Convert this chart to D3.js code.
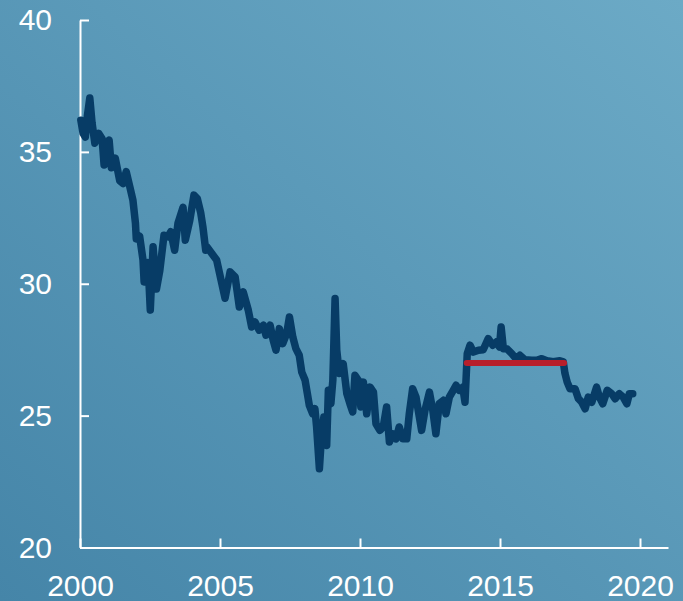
<!DOCTYPE html>
<html>
<head>
<meta charset="utf-8">
<script src="https://cdn.jsdelivr.net/npm/d3@7"></script>
<style>
  body { margin: 0; }
  .axis text { font-family: "Liberation Sans", Arial, sans-serif; font-size: 30px; fill: #fff; }
  .axis path, .axis line { stroke: #fff; stroke-width: 2; }
</style>
</head>
<body>
<script>
// decimal years and levels
var years = [2000.03, 2000.11, 2000.19, 2000.26, 2000.35, 2000.43, 2000.53, 2000.67, 2000.79, 2000.86,
  2000.98, 2001.04, 2001.12, 2001.26, 2001.42, 2001.54, 2001.65, 2001.78, 2001.89, 2001.98,
  2002.01, 2002.13, 2002.25, 2002.29, 2002.43, 2002.51, 2002.61, 2002.73, 2002.85, 2003.00,
  2003.14, 2003.24, 2003.38, 2003.50, 2003.68, 2003.76, 2003.92, 2004.07, 2004.19, 2004.31,
  2004.39, 2004.49, 2004.53, 2004.88, 2005.18, 2005.36, 2005.54, 2005.69, 2005.83, 2006.01,
  2006.13, 2006.25, 2006.40, 2006.55, 2006.64, 2006.79, 2006.90, 2007.00, 2007.12, 2007.24,
  2007.38, 2007.48, 2007.60, 2007.71, 2007.83, 2007.92, 2008.04, 2008.12, 2008.19, 2008.31,
  2008.39, 2008.45, 2008.55, 2008.63, 2008.71, 2008.81, 2008.87, 2008.96, 2009.03, 2009.11,
  2009.17, 2009.26, 2009.40, 2009.53, 2009.64, 2009.74, 2009.82, 2009.94, 2010.03, 2010.12,
  2010.24, 2010.36, 2010.48, 2010.57, 2010.71, 2010.83, 2010.95, 2011.05, 2011.17, 2011.29,
  2011.40, 2011.53, 2011.67, 2011.76, 2011.88, 2012.00, 2012.08, 2012.20, 2012.32, 2012.48,
  2012.60, 2012.71, 2012.83, 2012.98, 2013.07, 2013.19, 2013.33, 2013.43, 2013.55, 2013.67,
  2013.75, 2013.83, 2013.93, 2014.05, 2014.23, 2014.40, 2014.58, 2014.74, 2014.88, 2014.98,
  2015.04, 2015.12, 2015.24, 2015.42, 2015.57, 2015.71, 2015.89, 2016.13, 2016.31, 2016.49,
  2016.67, 2016.90, 2017.14, 2017.26, 2017.32, 2017.40, 2017.50, 2017.68, 2017.80, 2017.92,
  2018.04, 2018.15, 2018.28, 2018.45, 2018.55, 2018.67, 2018.83, 2018.99, 2019.11, 2019.26,
  2019.40, 2019.53, 2019.62, 2019.74];

var values = [36.2, 35.7, 35.56, 36.33, 37.04, 36.1, 35.33, 35.7, 35.5, 34.5,
  35.26, 35.45, 34.4, 34.76, 33.9, 33.8, 34.25, 33.67, 33.17, 32.3,
  31.7, 31.8, 30.9, 30.07, 30.8, 29.0, 31.4, 29.8, 30.5, 31.84,
  31.78, 31.97, 31.27, 32.3, 32.9, 31.65, 32.4, 33.36, 33.23, 32.7,
  32.15, 31.27, 31.4, 30.9, 29.45, 30.45, 30.26, 29.12, 29.69, 29.0,
  28.36, 28.55, 28.24, 28.43, 28.05, 28.43, 27.86, 27.48, 28.3, 27.73,
  28.11, 28.74, 27.98, 27.54, 27.29, 26.65, 26.34, 25.83, 25.39, 25.07,
  25.26, 24.57, 22.99, 24.31, 24.95, 23.87, 25.96, 25.45, 26.34, 29.44,
  27.48, 26.6, 26.97, 25.83, 25.45, 25.14, 26.53, 26.34, 25.33, 26.27,
  25.07, 26.08, 25.89, 24.69, 24.44, 24.57, 25.33, 24.0, 24.31, 24.12,
  24.57, 24.12, 24.12, 25.07, 26.02, 25.7, 25.2, 24.44, 25.2, 25.89,
  25.2, 24.31, 25.45, 25.58, 25.07, 25.7, 25.96, 26.15, 25.96, 26.08,
  25.51, 27.35, 27.67, 27.41, 27.48, 27.5, 27.92, 27.67, 27.8, 27.6,
  28.36, 27.54, 27.54, 27.35, 27.16, 27.29, 27.12, 27.1, 27.1, 27.16,
  27.08, 27.04, 27.08, 27.04, 26.6, 26.27, 26.02, 26.02, 25.64, 25.51,
  25.26, 25.7, 25.51, 26.08, 25.7, 25.45, 25.96, 25.83, 25.64, 25.83,
  25.7, 25.45, 25.83, 25.83];

// flat red reference segment
var refStart = 2013.81
  , refEnd = 2017.29
  , refValue = 27;

var xTicks = [2000, 2005, 2010, 2015, 2020];
var yTicks = [20, 25, 30, 35, 40];

var width = 683, height = 601;

var svg = d3.select('body')
  .append('svg')
  .attr('width', width)
  .attr('height', height);

var grad = svg.append('defs').append('linearGradient')
  .attr('id', 'bg')
  .attr('x1', '0%').attr('y1', '100%')
  .attr('x2', '100%').attr('y2', '0%');
grad.append('stop').attr('offset', '0%').attr('stop-color', '#4585a8');
grad.append('stop').attr('offset', '100%').attr('stop-color', '#6caac6');

svg.append('rect')
  .attr('width', width)
  .attr('height', height)
  .attr('fill', 'url(#bg)');

var x = d3.scaleLinear()
  .domain([2000, 2021])
  .range([80, 668]);

var y = d3.scaleLinear()
  .domain([20, 40])
  .range([547.5, 20]);

// axes, ticks pointing inward
svg.append('g')
  .attr('class', 'axis')
  .attr('transform', 'translate(0,' + y(20) + ')')
  .call(d3.axisBottom(x).tickValues(xTicks).tickFormat(d3.format('d'))
    .tickSizeInner(-9).tickSizeOuter(0).tickPadding(27));

svg.append('g')
  .attr('class', 'axis')
  .attr('transform', 'translate(' + x(2000) + ',0)')
  .call(d3.axisLeft(y).tickValues(yTicks)
    .tickSizeInner(-9).tickSizeOuter(0).tickPadding(28));

var data = years.map(function(d, i) { return {year: d, value: values[i]}; });

var line = d3.line()
  .x(function(d) { return x(d.year); })
  .y(function(d) { return y(d.value); });

svg.append('path')
  .datum(data)
  .attr('d', line)
  .attr('fill', 'none')
  .attr('stroke', '#073c66')
  .attr('stroke-width', 7.5)
  .attr('stroke-linejoin', 'round')
  .attr('stroke-linecap', 'round');

svg.append('line')
  .attr('x1', x(refStart))
  .attr('x2', x(refEnd))
  .attr('y1', y(refValue))
  .attr('y2', y(refValue))
  .attr('stroke', '#b81f2b')
  .attr('stroke-width', 6)
  .attr('stroke-linecap', 'round');
</script>
</body>
</html>
